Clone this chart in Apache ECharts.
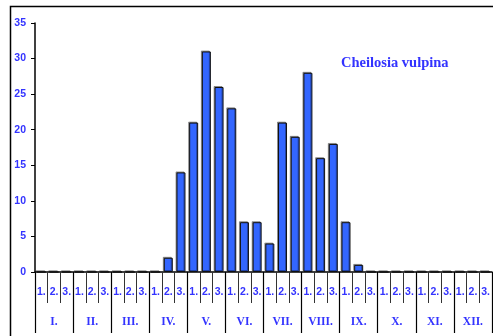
<!DOCTYPE html>
<html><head><meta charset="utf-8">
<script src="https://cdn.jsdelivr.net/npm/echarts@6/dist/echarts.min.js"></script>
<style>html,body{margin:0;padding:0;background:#fff;overflow:hidden}#c{width:493px;height:336px}</style>
</head><body><div id="c"></div>
<script>
const months = ['I.','II.','III.','IV.','V.','VI.','VII.','VIII.','IX.','X.','XI.','XII.'];
const decades = ['1.','2.','3.'];
const values = [0,0,0, 0,0,0, 0,0,0, 0,2,14, 21,31,26, 23,7,7, 4,21,19, 28,16,18, 7,1,0, 0,0,0, 0,0,0, 0,0,0];
const yTicks = {min:0, max:35, interval:5};
const title = 'Cheilosia vulpina';

const cats = [];
months.forEach(m => decades.forEach(d => cats.push(m + d)));
const blue = '#3333ff';
const chart = echarts.init(document.getElementById('c'), null, {renderer:'canvas'});
chart.setOption({
  animation:false,
  grid:{left:35, right:1, top:23, bottom:64, containLabel:false},
  graphic:[
    {type:'polyline', shape:{points:[[10.5,340],[10.5,6.5],[500,6.5]]}, style:{fill:null, stroke:'#000', lineWidth:1.5}, z:0},
    {type:'text', x:341, y:63.4, style:{text:title, fill:blue, font:'bold 14.5px "Liberation Serif", serif', verticalAlign:'middle'}}
  ],
  xAxis:[
    {type:'category', data:cats, position:'bottom',
     axisLine:{show:true, lineStyle:{color:'#000', width:1.5}},
     axisTick:{show:true, interval:0, length:31, lineStyle:{color:'#333', width:1}},
     axisLabel:{interval:0, margin:15, color:blue, fontWeight:'bold', fontSize:10.5, fontFamily:'Liberation Sans',
       formatter:(v)=>{ const m=v.match(/(\d\.)$/); return m?m[1]:v; }}},
    {type:'category', data:months, position:'bottom', offset:0,
     axisLine:{show:false},
     axisTick:{show:true, interval:0, length:61, lineStyle:{color:'#000', width:1.2}},
     axisLabel:{interval:0, margin:44, color:blue, fontWeight:'bold', fontSize:11.5, fontFamily:'Liberation Serif'}}
  ],
  yAxis:{type:'value', min:yTicks.min, max:yTicks.max, interval:yTicks.interval,
    axisLine:{show:true, lineStyle:{color:'#000', width:1.5}},
    axisTick:{show:true, length:4, lineStyle:{color:'#000'}},
    splitLine:{show:false},
    axisLabel:{margin:9, color:blue, fontWeight:'bold', fontSize:10.5, fontFamily:'Liberation Sans'}},
  series:[{type:'bar', xAxisIndex:0, data:values, barWidth:9,
    itemStyle:{color:'#3366ff', borderColor:'#111', borderWidth:1,
      shadowColor:'rgba(0,0,0,0.35)', shadowOffsetX:-1, shadowOffsetY:-1, shadowBlur:0}}]
});
</script></body></html>
